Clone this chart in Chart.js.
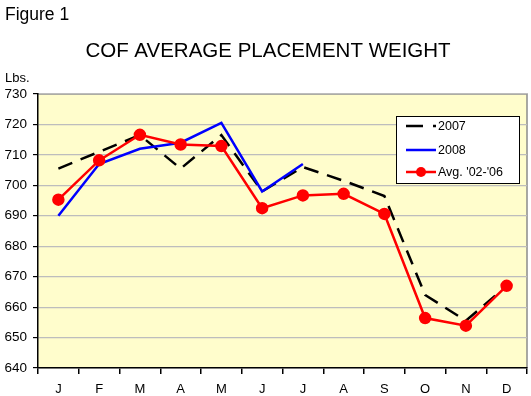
<!DOCTYPE html>
<html>
<head>
<meta charset="utf-8">
<script src="https://cdn.jsdelivr.net/npm/chart.js@4/dist/chart.umd.min.js"></script>
<style>
html,body{margin:0;padding:0;background:#fff;}
#wrap{width:531px;height:396px;position:relative;}
</style>
</head>
<body>
<div id="wrap"><canvas id="c" width="531" height="396"></canvas></div>
<script>
const months = ['J','F','M','A','M','J','J','A','S','O','N','D'];
const s2007 = [705.5, 711, 716.5, 705.5, 716.5, 698, 706, 701.5, 696.5, 664, 655.5, 667];
const s2008 = [690, 707, 712, 714, 720.5, 698, 707, null, null, null, null, null];
const avg0206 = [695.3, 708.2, 716.6, 713.4, 712.9, 692.5, 696.7, 697.2, 690.6, 656.4, 653.9, 667];
const seriesNames = ['2007', '2008', "Avg. '02-'06"];
const yMin = 640, yMax = 730, yStep = 10;

const FONT = '"Liberation Sans", Arial, sans-serif';

const decor = {
  id: 'decor',
  beforeDraw(chart) {
    const {ctx, chartArea: a} = chart;
    ctx.save();
    ctx.fillStyle = '#FFFDCC';
    ctx.fillRect(a.left, a.top, a.right - a.left, a.bottom - a.top);
    ctx.strokeStyle = '#8C8C8C';
    ctx.lineWidth = 1.5;
    ctx.beginPath();
    ctx.moveTo(a.left, a.top); ctx.lineTo(a.right, a.top); ctx.lineTo(a.right, a.bottom);
    ctx.stroke();
    ctx.restore();
  },
  afterDraw(chart) {
    const {ctx} = chart;
    ctx.save();
    ctx.fillStyle = '#000';
    ctx.textBaseline = 'alphabetic';
    ctx.textAlign = 'left';
    ctx.font = '17.5px ' + FONT;
    ctx.fillText('Figure 1', 5, 20);
    ctx.textAlign = 'center';
    ctx.font = '20.5px ' + FONT;
    ctx.fillText('COF AVERAGE PLACEMENT WEIGHT', 268, 57);
    ctx.textAlign = 'left';
    ctx.font = '13px ' + FONT;
    ctx.fillText('Lbs.', 5, 82);

    // legend box
    const bx = 396, by = 116, bw = 123, bh = 67;
    ctx.fillStyle = '#fff';
    ctx.fillRect(bx, by, bw, bh);
    ctx.strokeStyle = '#000';
    ctx.lineWidth = 1;
    ctx.strokeRect(bx + 0.5, by + 0.5, bw, bh);
    const ds = chart.data.datasets;
    const rows = [126, 150, 172];
    ds.forEach((d, i) => {
      const y = rows[i];
      ctx.save();
      ctx.strokeStyle = d.borderColor;
      ctx.lineWidth = d.borderWidth;
      ctx.setLineDash(d.borderDash ? [17, 10] : []);
      ctx.beginPath();
      ctx.moveTo(406, y); ctx.lineTo(436, y);
      ctx.stroke();
      ctx.restore();
      if (d.pointRadius) {
        ctx.fillStyle = d.pointBackgroundColor;
        ctx.beginPath();
        ctx.arc(421, y, d.pointRadius, 0, Math.PI * 2);
        ctx.fill();
      }
      ctx.fillStyle = '#000';
      ctx.font = '12.5px ' + FONT;
      ctx.textBaseline = 'middle';
      ctx.fillText(d.label, 438, y + 1);
    });
    ctx.restore();
  }
};

new Chart(document.getElementById('c'), {
  type: 'line',
  data: {
    labels: months,
    datasets: [
      {label: seriesNames[0], data: s2007, borderColor: '#000', borderWidth: 2.5, borderDash: [15, 9], pointRadius: 0, fill: false, tension: 0, order: 3},
      {label: seriesNames[1], data: s2008, borderColor: '#0000FF', borderWidth: 2.5, pointRadius: 0, fill: false, tension: 0, spanGaps: false, order: 2},
      {label: seriesNames[2], data: avg0206, borderColor: '#FF0000', backgroundColor: '#FF0000', pointBackgroundColor: '#FF0000', pointBorderColor: '#FF0000', borderWidth: 2.5, pointRadius: 5, fill: false, tension: 0, order: 1}
    ]
  },
  options: {
    responsive: false,
    animation: false,
    devicePixelRatio: 1,
    layout: {autoPadding: false, padding: {top: 94, right: 4, left: 0, bottom: 0}},
    plugins: {legend: {display: false}, title: {display: false}, tooltip: {enabled: false}},
    scales: {
      x: {
        offset: true,
        grid: {offset: true, drawOnChartArea: false, drawTicks: true, tickLength: 6, tickColor: '#000', lineWidth: 1.5},
        border: {color: '#000', width: 1.5},
        ticks: {color: '#000', font: {family: FONT, size: 13}, padding: 8, maxRotation: 0, autoSkip: false},
        afterFit(s) { s.height = 28; s.paddingLeft = 0; s.paddingRight = 0; }
      },
      y: {
        min: yMin, max: yMax,
        grid: {color: '#BDBDBD', lineWidth: 1.2, tickColor: '#000', tickLength: 5},
        border: {color: '#000', width: 1.5},
        ticks: {stepSize: yStep, color: '#000', font: {family: FONT, size: 13.5}, padding: 6},
        afterFit(s) { s.width = 38; s.paddingTop = 0; s.paddingBottom = 0; }
      }
    }
  },
  plugins: [decor]
});
</script>
</body>
</html>
